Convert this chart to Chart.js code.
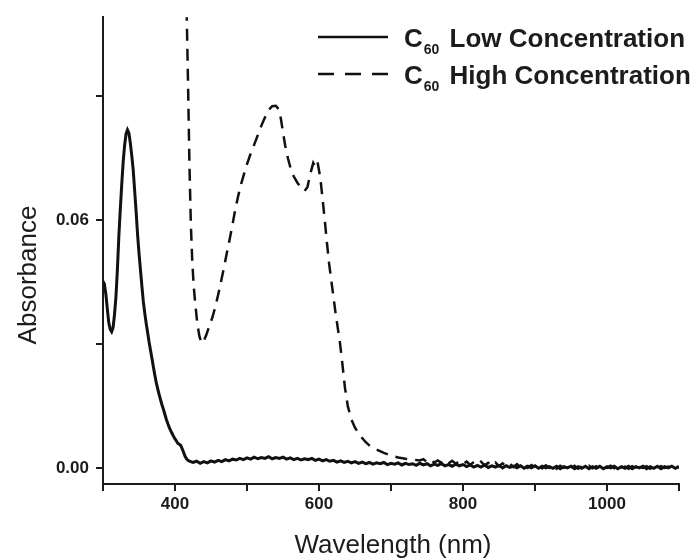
<!DOCTYPE html>
<html>
<head>
<meta charset="utf-8">
<script src="https://cdn.jsdelivr.net/npm/chart.js@4.4.1/dist/chart.umd.min.js"></script>
<style>
  html, body { margin: 0; padding: 0; background: #ffffff; }
  #wrap { width: 700px; height: 559px; position: relative; }
</style>
</head>
<body>
<div id="wrap"><canvas id="c"></canvas></div>
<script>
// ---------- DATA ----------
const seriesFormula = 'C';
const seriesSubscript = '60';
const seriesNames = ['Low Concentration', 'High Concentration'];
const xTitle = 'Wavelength (nm)';
const yTitle = 'Absorbance';

const xTicks = [300, 400, 500, 600, 700, 800, 900, 1000, 1100];
const xTickLabels = ['', '400', '', '600', '', '800', '', '1000', ''];
const yTicks = [0, 0.03, 0.06, 0.09];
const yTickLabels = ['0.00', '', '0.06', ''];

// Low concentration (solid)
const lowWavelength = [
  300,302,304,306,308,310,312,314,316,318,
  320,322,324,326,328,330,332,334,336,338,
  340,342,344,346,348,350,352,354,356,358,
  360,362,364,366,368,370,372,374,376,378,
  380,382,384,386,388,390,392,394,396,398,
  400,402,404,406,408,410,412,414,416,418,
  420,
  425,430,435,440,445,450,455,460,465,470,
  475,480,485,490,495,500,505,510,515,520,
  525,530,535,540,545,550,555,560,565,570,
  575,580,585,590,595,600,605,610,615,620,
  625,630,635,640,645,650,655,660,665,670,
  675,680,685,690,695,700,705,710,715,720,
  725,730,735,740,745,750,755,760,765,770,
  775,780,785,790,795,800,805,810,815,820,
  825,830,835,840,845,850,855,860,865,870,
  875,880,885,890,895,900,905,910,915,920,
  925,930,935,940,945,950,955,960,965,970,
  975,980,985,990,995,1000,1005,1010,1015,1020,
  1025,1030,1035,1040,1045,1050,1055,1060,1065,1070,
  1075,1080,1085,1090,1095,1100
];
const lowAbsorbance = [
  0.0452,0.0445,0.0420,0.0385,0.0352,0.0336,0.0330,0.0340,0.0372,0.0415,
  0.0480,0.0560,0.0625,0.0685,0.0740,0.0780,0.0808,0.0818,0.0810,0.0785,
  0.0755,0.0720,0.0670,0.0620,0.0565,0.0520,0.0480,0.0440,0.0403,0.0375,
  0.0350,0.0328,0.0305,0.0285,0.0265,0.0245,0.0225,0.0207,0.0192,0.0178,
  0.0165,0.0153,0.0142,0.0130,0.0118,0.0108,0.0099,0.0091,0.0084,0.0077,
  0.0071,0.0066,0.0060,0.0058,0.0055,0.0047,0.0038,0.0029,0.0023,0.0019,
  0.0017,
  0.0014,0.0017,0.0012,0.0016,0.0013,0.0018,0.0015,0.0019,0.0016,0.0021,
  0.0018,0.0022,0.0020,0.0024,0.0021,0.0025,0.0022,0.0027,0.0023,0.0026,
  0.0024,0.0028,0.0023,0.0026,0.0024,0.0027,0.0022,0.0025,0.0021,0.0024,
  0.0020,0.0023,0.0021,0.0024,0.0019,0.0022,0.0018,0.0021,0.0017,0.0019,
  0.0015,0.0018,0.0014,0.0017,0.0013,0.0016,0.0012,0.0015,0.0011,0.0014,
  0.0010,0.0013,0.0011,0.0014,0.0009,0.0012,0.0010,0.0013,0.0008,0.0012,
  0.0009,0.0011,0.0007,0.0012,0.0008,0.0011,0.0006,0.0010,0.0007,0.0011,
  0.0006,0.0009,0.0005,0.0010,0.0006,0.0009,0.0004,0.0008,0.0003,0.0007,
  0.0003,0.0008,0.0002,0.0006,0.0003,0.0007,0.0001,0.0006,0.0002,0.0005,
  0.0001,0.0006,0.0000,0.0005,0.0001,0.0006,0.0000,0.0005,0.0001,0.0004,
  0.0000,0.0005,-0.0001,0.0004,0.0001,0.0005,-0.0001,0.0004,0.0000,0.0005,
  -0.0001,0.0004,0.0000,0.0005,-0.0001,0.0004,0.0001,0.0005,-0.0001,0.0004,
  0.0000,0.0005,-0.0001,0.0004,0.0001,0.0005,-0.0001,0.0004,0.0000,0.0005,
  -0.0001,0.0004,0.0001,0.0005,0.0000,0.0004
];

// High concentration (dashed)
const highWavelength = [
  410,414,416,418,420,422,424,426,428,431,
  434,437,440,443,446,449,452,456,460,464,
  468,472,476,480,484,488,492,496,500,505,
  510,515,520,525,530,535,540,544,547,550,
  553,557,561,565,570,575,580,584,588,592,
  595,598,602,605,608,611,614,617,620,623,
  626,629,632,636,640,645,650,657,665,672,
  680,690,700,710,720,730,740,
  745,750,755,760,765,770,775,780,785,790,
  795,800,805,810,815,820,825,830,835,840,
  845,850,855,860,865,870,875,880,885,890,
  895,900,905,910,915,920,925,930,935,940,
  945,950,955,960,965,970,975,980,985,990,
  995,1000,1005,1010,1015,1020,1025,1030,1035,1040,
  1045,1050,1055,1060,1065,1070,1075,1080,1085,1090,
  1095,1100
];
const highAbsorbance = [
  0.140,0.125,0.112,0.094,0.074,0.059,0.050,0.044,0.040,0.035,
  0.0318,0.0302,0.0308,0.0320,0.0335,0.0350,0.0365,0.0390,0.0420,0.0452,
  0.0485,0.0520,0.0554,0.0590,0.0628,0.0660,0.0688,0.0712,0.0735,0.0760,
  0.0782,0.0805,0.0828,0.0848,0.0866,0.0875,0.0876,0.0868,0.0845,0.0812,
  0.0780,0.0748,0.0722,0.0705,0.0690,0.0678,0.0670,0.0680,0.0712,0.0738,
  0.0728,0.0740,0.0700,0.0650,0.0600,0.0545,0.0495,0.0455,0.0415,0.0375,
  0.0340,0.0305,0.0260,0.0195,0.0150,0.0118,0.0098,0.0079,0.0063,0.0052,
  0.0045,0.0037,0.0031,0.0026,0.0023,0.0021,0.0019,
  0.0022,0.0015,0.0021,0.0014,0.0019,0.0013,0.0020,0.0012,0.0018,0.0011,
  0.0017,0.0010,0.0016,0.0008,0.0015,0.0009,0.0016,0.0007,0.0013,0.0006,
  0.0014,0.0005,0.0012,0.0004,0.0011,0.0003,0.0010,0.0002,0.0009,0.0001,
  0.0008,0.0002,0.0009,0.0000,0.0007,0.0001,0.0008,-0.0001,0.0006,0.0001,
  0.0007,0.0000,0.0006,-0.0001,0.0005,0.0001,0.0006,0.0000,0.0005,-0.0001,
  0.0005,0.0001,0.0006,0.0000,0.0005,0.0001,0.0004,-0.0001,0.0005,0.0000,
  0.0004,0.0001,0.0005,-0.0001,0.0004,0.0000,0.0005,0.0001,0.0004,0.0000,
  0.0005,0.0002
];

// ---------- CHART ----------
const FONT = '"Liberation Sans", Arial, Helvetica, sans-serif';
const INK = '#1c1c1c';

function toPoints(xs, ys) {
  return xs.map((x, i) => ({ x: x, y: ys[i] }));
}

const textPlugin = {
  id: 'textPlugin',
  afterDraw(chart) {
    const ctx = chart.ctx;
    const area = chart.chartArea;
    ctx.save();
    // legend
    const rows = [37, 74];
    chart.data.datasets.forEach((ds, i) => {
      const y = rows[i];
      ctx.strokeStyle = ds.borderColor;
      ctx.lineWidth = 2.6;
      ctx.setLineDash(ds.borderDash && ds.borderDash.length ? [16, 11] : []);
      ctx.beginPath();
      ctx.moveTo(318, y);
      ctx.lineTo(388, y);
      ctx.stroke();
      ctx.setLineDash([]);
      ctx.fillStyle = INK;
      ctx.textAlign = 'left';
      ctx.textBaseline = 'alphabetic';
      let x = 404;
      ctx.font = 'bold 26px ' + FONT;
      ctx.fillText(seriesFormula, x, y + 10);
      x += ctx.measureText(seriesFormula).width + 1;
      ctx.font = 'bold 14px ' + FONT;
      ctx.fillText(seriesSubscript, x, y + 17);
      x += ctx.measureText(seriesSubscript).width + 3;
      ctx.font = 'bold 26px ' + FONT;
      ctx.fillText(' ' + seriesNames[i], x, y + 10);
    });
    // axis titles
    ctx.font = '26px ' + FONT;
    ctx.fillStyle = INK;
    ctx.textAlign = 'center';
    ctx.textBaseline = 'alphabetic';
    ctx.fillText(xTitle, (area.left + area.right) / 2 + 2, 553);
    ctx.translate(36, 275);
    ctx.rotate(-Math.PI / 2);
    ctx.fillText(yTitle, 0, 0);
    ctx.restore();
  }
};

new Chart(document.getElementById('c'), {
  type: 'line',
  data: {
    datasets: [
      {
        label: seriesFormula + seriesSubscript + ' ' + seriesNames[0],
        data: toPoints(lowWavelength, lowAbsorbance),
        borderColor: '#111111',
        borderWidth: 3,
        pointRadius: 0,
        tension: 0,
        fill: false
      },
      {
        label: seriesFormula + seriesSubscript + ' ' + seriesNames[1],
        data: toPoints(highWavelength, highAbsorbance),
        borderColor: '#111111',
        borderWidth: 2.5,
        borderDash: [12, 8],
        pointRadius: 0,
        tension: 0,
        fill: false
      }
    ]
  },
  options: {
    responsive: true,
    maintainAspectRatio: false,
    devicePixelRatio: 1,
    animation: false,
    layout: { padding: { top: 13, right: 21, left: 0, bottom: 0 } },
    plugins: {
      legend: { display: false },
      tooltip: { enabled: false },
      title: { display: false }
    },
    scales: {
      x: {
        type: 'linear',
        min: 300,
        max: 1100,
        afterBuildTicks: (scale) => { scale.ticks = xTicks.map(v => ({ value: v })); },
        afterFit: (scale) => { scale.height = 75; },
        ticks: {
          autoSkip: false,
          maxRotation: 0,
          padding: 3,
          color: INK,
          font: { family: FONT, size: 17, weight: 'bold' },
          callback: (value, index) => xTickLabels[index]
        },
        grid: {
          display: true,
          drawOnChartArea: false,
          drawTicks: true,
          tickLength: 7,
          color: INK,
          lineWidth: 2
        },
        border: { display: true, color: INK, width: 2 }
      },
      y: {
        type: 'linear',
        min: -0.0038,
        max: 0.109,
        afterBuildTicks: (scale) => { scale.ticks = yTicks.map(v => ({ value: v })); },
        afterFit: (scale) => { scale.width = 103; },
        ticks: {
          autoSkip: false,
          padding: 7,
          color: INK,
          font: { family: FONT, size: 17, weight: 'bold' },
          callback: (value, index) => yTickLabels[index]
        },
        grid: {
          display: true,
          drawOnChartArea: false,
          drawTicks: true,
          tickLength: 7,
          color: INK,
          lineWidth: 2
        },
        border: { display: true, color: INK, width: 2 }
      }
    }
  },
  plugins: [textPlugin]
});
</script>
</body>
</html>
